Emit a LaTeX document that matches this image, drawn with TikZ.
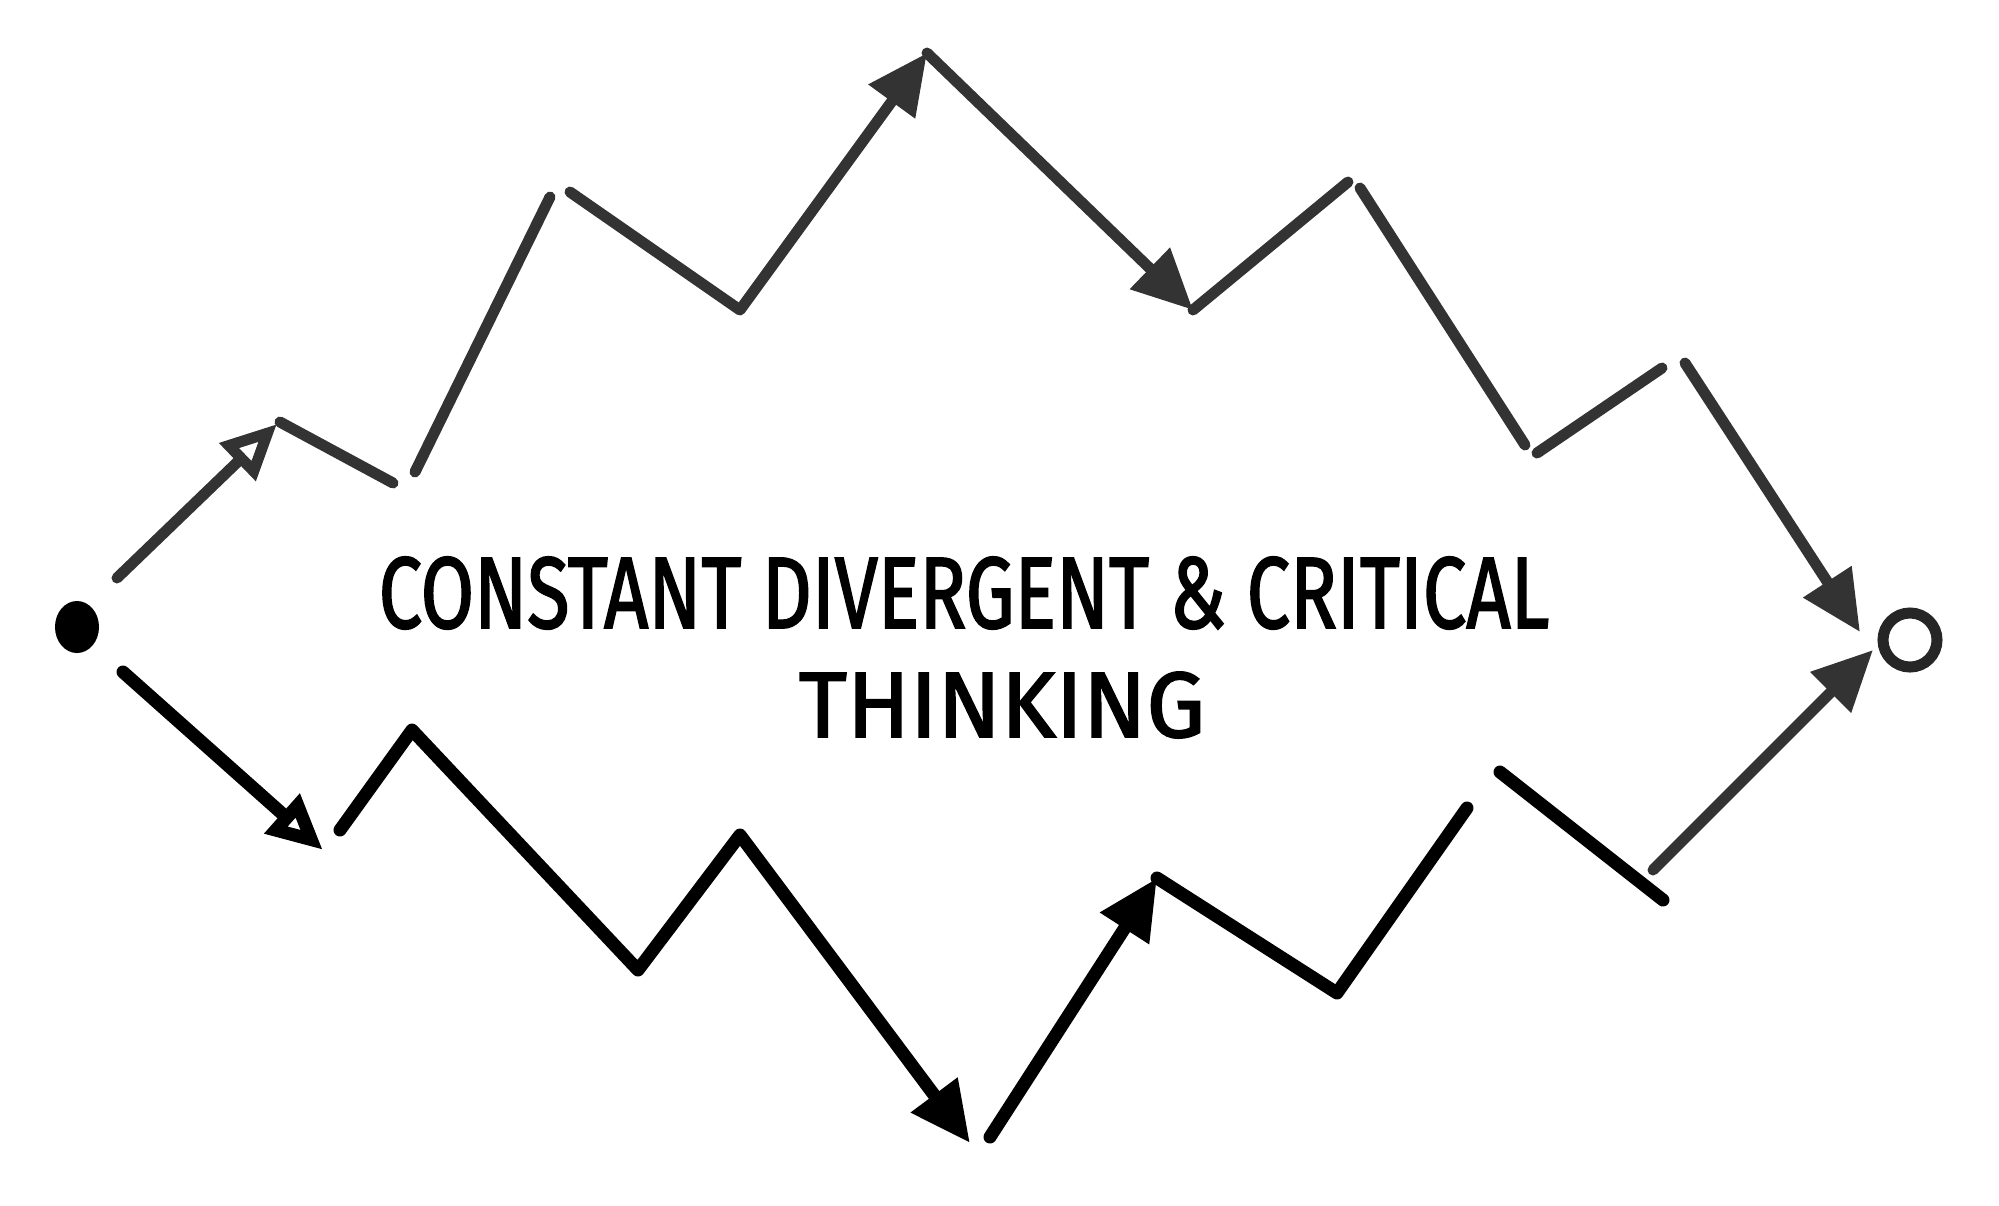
\documentclass[tikz,border=0pt]{standalone}
\usepackage{fontspec}
\setmainfont{Fira Sans}
\newfontfamily\sketchfont[FakeBold=2]{Fira Sans}
\usepackage{graphicx}
\usepackage{tikz}
\usetikzlibrary{arrows.meta,positioning,shapes}

\begin{document}
\begin{tikzpicture}[x=0.01cm, y=-0.01cm,
    pencil/.style={black!80, line width=0.11cm, line cap=round, line join=round},
    marker/.style={black, line width=0.13cm, line cap=round, line join=round},
    openhead/.style={-{Triangle[open, length=0.55cm, width=0.5cm]}},
    fullhead/.style={-{Triangle[length=0.6cm, width=0.55cm]}}]
    \useasboundingbox (0,0) rectangle (1999,1205);

    % Start and end
    \node[ellipse, fill, inner sep=0pt, minimum width=0.44cm, minimum height=0.52cm] (start) at (77,627) {};
    \node[circle, draw, black!85, line width=0.11cm, inner sep=0pt, minimum size=0.54cm] (goal) at (1910,640) {};

    % Upper path
    \draw[pencil, openhead] (117,578) -- (277,424);
    \draw[pencil] (280,422) -- (393,483);
    \draw[pencil] (415,472) -- (550,197);
    \draw[pencil, fullhead] (570,192) -- (740,310) -- (927,53);
    \draw[pencil, fullhead] (927,53) -- (1193,310);
    \draw[pencil] (1193,310) -- (1348,182);
    \draw[pencil] (1360,188) -- (1525,445);
    \draw[pencil] (1537,453) -- (1662,368);
    \draw[pencil, fullhead] (1685,363) -- (1860,632);

    % Lower path
    \draw[marker, openhead] (123,672) -- (323,850);
    \draw[marker, fullhead] (340,830) -- (412,730) -- (638,970) -- (740,835) -- (970,1143);
    \draw[marker, fullhead] (990,1137) -- (1157,878);
    \draw[marker] (1157,878) -- (1337,993) -- (1467,808);
    \draw[marker] (1500,772) -- (1663,900);
    \draw[pencil, fullhead] (1653,870) -- (1873,650);

    % Labels
    \node[inner sep=0pt] (line1) at (964,593) {\resizebox{11.7cm}{0.71cm}{\sketchfont CONSTANT DIVERGENT \& CRITICAL}};
    \node[inner sep=0pt] (line2) at (1002,705) {\resizebox{4.06cm}{0.65cm}{\sketchfont THINKING}};
\end{tikzpicture}
\end{document}
